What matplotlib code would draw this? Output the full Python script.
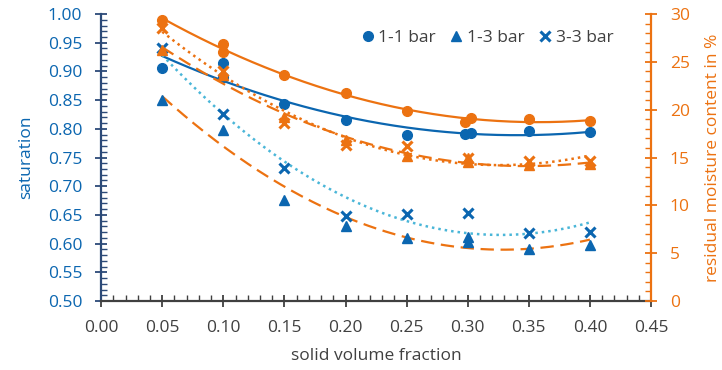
import numpy as np
import matplotlib.pyplot as plt
from matplotlib.lines import Line2D
from matplotlib.ticker import MultipleLocator, FormatStrFormatter

plt.rcParams['font.family'] = ['Open Sans', 'DejaVu Sans']

BLUE = '#0b66b0'
ORANGE = '#ec7211'
CYAN = '#4ab6d8'
NAVY = '#2c4a78'
GREY = '#404040'

# 1-1 bar
phi_11 = [0.05, 0.10, 0.10, 0.15, 0.20, 0.25, 0.298, 0.303, 0.35, 0.40]
sat_11 = [0.906, 0.914, 0.891, 0.843, 0.815, 0.790, 0.791, 0.793, 0.796, 0.794]
moist_11 = [29.4, 26.9, 26.0, 23.6, 21.7, 19.9, 18.75, 19.1, 19.0, 18.85]

# 1-3 bar
phi_13 = [0.05, 0.10, 0.15, 0.20, 0.25, 0.30, 0.30, 0.35, 0.40]
sat_13 = [0.851, 0.798, 0.676, 0.630, 0.609, 0.611, 0.602, 0.590, 0.598]
moist_13 = [26.2, 23.6, 19.2, 16.8, 15.2, 14.9, 14.5, 14.2, 14.3]

# 3-3 bar
phi_33 = [0.05, 0.10, 0.15, 0.20, 0.25, 0.30, 0.35, 0.40]
sat_33 = [0.940, 0.826, 0.731, 0.648, 0.652, 0.654, 0.618, 0.621]
moist_33 = [28.5, 24.0, 18.6, 16.3, 16.2, 15.0, 14.6, 14.6]


def trend(ax, x, y, **kw):
    # 2nd order polynomial trendline over the measured range
    c = np.polyfit(x, y, 2)
    xs = np.linspace(min(x), max(x), 200)
    ax.plot(xs, np.polyval(c, xs), **kw)


fig = plt.figure(figsize=(7.22, 3.70), dpi=100)
ax = fig.add_axes([0.14, 0.1865, 0.7617, 0.7755])
ax2 = ax.twinx()

ms = 7
# saturation (left axis)
trend(ax, phi_11, sat_11, color=BLUE, lw=1.6, ls='-')
trend(ax, phi_13, sat_13, color=ORANGE, lw=1.6, ls=(0, (6, 3)))
trend(ax, phi_33, sat_33, color=CYAN, lw=1.8, ls=(0, (1, 1.6)))
ax.plot(phi_11, sat_11, 'o', color=BLUE, ms=ms)
ax.plot(phi_13, sat_13, '^', color=BLUE, ms=ms)
ax.plot(phi_33, sat_33, 'x', color=BLUE, ms=6.5, mew=2.2)

# residual moisture (right axis)
trend(ax2, phi_11, moist_11, color=ORANGE, lw=1.6, ls='-')
trend(ax2, phi_13, moist_13, color=ORANGE, lw=1.6, ls=(0, (6, 3)))
trend(ax2, phi_33, moist_33, color=ORANGE, lw=1.8, ls=(0, (1, 1.6)))
ax2.plot(phi_11, moist_11, 'o', color=ORANGE, ms=ms)
ax2.plot(phi_13, moist_13, '^', color=ORANGE, ms=ms)
ax2.plot(phi_33, moist_33, 'x', color=ORANGE, ms=6.5, mew=2.2)

ax.set_xlim(0, 0.45)
ax.set_ylim(0.5, 1.0)
ax2.set_ylim(0, 30)

ax.xaxis.set_major_locator(MultipleLocator(0.05))
ax.xaxis.set_minor_locator(MultipleLocator(0.01))
ax.xaxis.set_major_formatter(FormatStrFormatter('%.2f'))
ax.yaxis.set_major_locator(MultipleLocator(0.05))
ax.yaxis.set_minor_locator(MultipleLocator(0.01))
ax.yaxis.set_major_formatter(FormatStrFormatter('%.2f'))
ax2.yaxis.set_major_locator(MultipleLocator(5))
ax2.yaxis.set_minor_locator(MultipleLocator(1))

fs = 12.5
for a in (ax, ax2):
    a.spines['top'].set_visible(False)
    a.tick_params(which='major', direction='inout', length=9, width=1.3, pad=9, labelsize=fs)
    a.tick_params(which='minor', direction='in', length=4, width=1.0)

ax.spines['right'].set_visible(False)
ax.spines['left'].set_color(NAVY)
ax.spines['left'].set_linewidth(1.6)
ax.spines['bottom'].set_color(GREY)
ax.spines['bottom'].set_linewidth(1.6)
ax.tick_params(axis='y', which='both', colors=NAVY, labelcolor=BLUE)
ax.tick_params(axis='x', which='both', colors=GREY, labelcolor=GREY)

ax2.spines['left'].set_visible(False)
ax2.spines['bottom'].set_visible(False)
ax2.spines['right'].set_color(ORANGE)
ax2.spines['right'].set_linewidth(1.6)
ax2.tick_params(axis='y', which='both', colors=ORANGE, labelcolor=ORANGE)

ax.set_xlabel('solid volume fraction', fontsize=fs, color=GREY, labelpad=9)
ax.set_ylabel('saturation', fontsize=fs, color=BLUE, labelpad=10)
ax2.set_ylabel('residual moisture content in %', fontsize=fs, color=ORANGE, labelpad=11)

handles = [
    Line2D([], [], ls='', marker='o', color=BLUE, ms=ms),
    Line2D([], [], ls='', marker='^', color=BLUE, ms=ms),
    Line2D([], [], ls='', marker='x', color=BLUE, ms=6.5, mew=2.2),
]
leg = ax2.legend(handles, ['1-1 bar', '1-3 bar', '3-3 bar'], ncol=3, frameon=False,
                 loc='upper right', bbox_to_anchor=(0.96, 1.0), fontsize=fs,
                 handlelength=0.6, handletextpad=0.3, columnspacing=0.9)
for t in leg.get_texts():
    t.set_color(GREY)

fig.savefig('out.png', dpi=100)
